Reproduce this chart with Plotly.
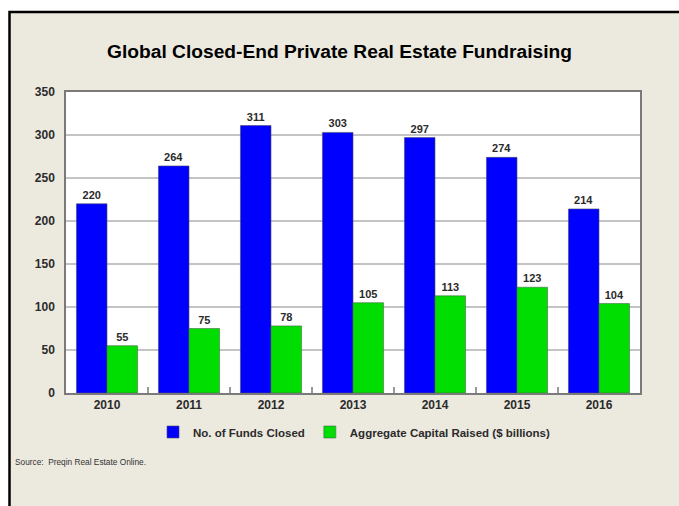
import plotly.graph_objects as go

years = ["2010", "2011", "2012", "2013", "2014", "2015", "2016"]
funds_closed = [220, 264, 311, 303, 297, 274, 214]
capital_raised = [55, 75, 78, 105, 113, 123, 104]

W, H = 679, 506
PL, PR, PT, PB = 66, 640, 92, 393          # plot area in page pixels
L, R, T, B = PL, W - PR, PT, H - PB
pw, ph = W - L - R, H - T - B

def px_x(x):
    return (x - L) / pw

def px_y(y):
    return (H - B - y) / ph

FONT = "Liberation Sans, Arial, sans-serif"
TXT = "#2b2b2b"

fig = go.Figure()
fig.add_trace(go.Bar(
    x=years, y=funds_closed, name="No. of Funds Closed",
    marker=dict(color="#0000FF", line=dict(color="#4a4a6a", width=0.6)),
    text=funds_closed, textposition="outside",
    textfont=dict(family=FONT, size=11, color=TXT, weight="bold"),
    cliponaxis=False,
))
fig.add_trace(go.Bar(
    x=years, y=capital_raised, name="Aggregate Capital Raised ($ billions)",
    marker=dict(color="#00DD00", line=dict(color="#4a6a4a", width=0.6)),
    text=capital_raised, textposition="outside",
    textfont=dict(family=FONT, size=11, color=TXT, weight="bold"),
    cliponaxis=False,
))

shapes = [
    dict(type="rect", xref="paper", yref="paper", layer="below",
         x0=px_x(9.5), x1=px_x(W + 10), y0=px_y(H + 10), y1=px_y(12),
         fillcolor="#ECE9DF", line=dict(color="black", width=2.5)),
    dict(type="rect", xref="paper", yref="paper", layer="below",
         x0=0, x1=1, y0=0, y1=1, fillcolor="white", line=dict(width=0)),
]

fig.update_layout(
    width=W, height=H,
    margin=dict(l=L, r=R, t=T, b=B),
    paper_bgcolor="white",
    plot_bgcolor="white",
    barmode="group",
    bargap=0.255,
    bargroupgap=0,
    font=dict(family=FONT, color=TXT),
    title=dict(
        text="<b>Global Closed-End Private Real Estate Fundraising</b>",
        x=339.5 / W, xref="container", xanchor="center",
        y=1 - 51 / H, yref="container", yanchor="middle",
        font=dict(family=FONT, size=19.2, color="black"),
    ),
    showlegend=True,
    legend=dict(
        orientation="h", x=px_x(354), xanchor="center",
        y=px_y(432), yanchor="middle",
        font=dict(family=FONT, size=11.5, color=TXT, weight="bold"),
        bgcolor="rgba(0,0,0,0)",
    ),
    shapes=shapes,
    annotations=[dict(
        text="Source:  Preqin Real Estate Online.",
        xref="paper", yref="paper", x=px_x(13), y=px_y(462),
        xanchor="left", yanchor="middle", showarrow=False,
        font=dict(family=FONT, size=8.3, color="#333333"),
    )],
)

fig.update_yaxes(
    range=[0, 350], dtick=50, tick0=0,
    showgrid=True, gridcolor="#c4c4c4", gridwidth=1.5,
    showline=True, linecolor="#7a7a7a", linewidth=1.5, mirror=True,
    ticks="", ticklabelstandoff=7,
    tickfont=dict(family=FONT, size=12, color=TXT, weight="bold"),
    zeroline=False,
)
fig.update_xaxes(
    showline=True, linecolor="#7a7a7a", linewidth=1.5, mirror=True,
    ticks="inside", tickson="boundaries", ticklen=6, tickcolor="#9a9a9a", tickwidth=1.5,
    tickfont=dict(family=FONT, size=12, color=TXT, weight="bold"),
    showgrid=False,
)

fig.write_html(
    "out.html",
    config={"displayModeBar": False},
    post_script="document.body.style.margin='0';document.body.style.overflow='hidden';",
)
